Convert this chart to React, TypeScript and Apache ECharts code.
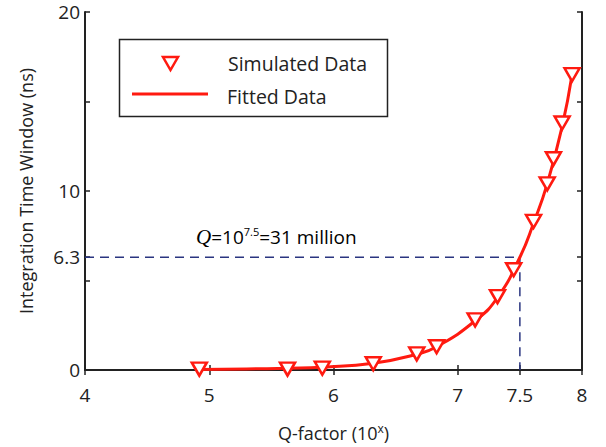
import React, { useEffect, useRef } from "react";
import * as echarts from "echarts";

const simX = [4.92, 5.63, 5.91, 6.32, 6.67, 6.83, 7.14, 7.32, 7.45, 7.61, 7.72, 7.77, 7.84, 7.92];
const simY = [0.05, 0.05, 0.1, 0.35, 0.9, 1.3, 2.8, 4.1, 5.6, 8.3, 10.4, 11.8, 13.8, 16.5];
const fitX = [4.92, 5.3, 5.63, 5.91, 6.32, 6.67, 6.83, 7.14, 7.32, 7.5, 7.61, 7.72, 7.84, 7.92];
const fitY = [0.03, 0.06, 0.1, 0.16, 0.38, 0.88, 1.3, 2.75, 4.05, 6.3, 8.2, 10.4, 13.6, 16.5];
const refPath = [[4, 6.3], [7.5, 6.3], [7.5, 0]];
const xTicks = [4, 5, 6, 7, 7.5, 8];
const yTicks = [0, 5, 6.3, 10, 15, 20];
const yLabels = [0, 6.3, 10, 20];

const FONT = "Open Sans";
const RED = "#ff1a10";
const INK = "#222";

export default function App() {
  const ref = useRef<HTMLDivElement>(null);
  useEffect(() => {
    const chart = echarts.init(ref.current!, null, { renderer: "svg" });
    const axisLine = { lineStyle: { color: INK, width: 2 } };
    const tick = (vals: number[]) => ({
      show: true,
      inside: true,
      length: 5,
      customValues: vals,
      lineStyle: { color: INK, width: 1.5 },
    });
    chart.setOption({
      animation: false,
      backgroundColor: "#fff",
      grid: { left: 85, right: 24, top: 12, bottom: 74 },
      xAxis: [
        {
          type: "value",
          min: 4,
          max: 8,
          axisLine,
          axisTick: tick(xTicks),
          splitLine: { show: false },
          axisLabel: {
            customValues: xTicks,
            fontFamily: FONT,
            fontSize: 19,
            color: INK,
            margin: 15,
            formatter: (v: number) => String(v),
          },
          name: "{a|Q-factor (10}{s|x}{a|)}",
          nameLocation: "middle",
          nameGap: 52,
          nameTextStyle: {
            rich: {
              a: { fontFamily: FONT, fontSize: 18, color: INK },
              s: { fontFamily: FONT, fontSize: 12, color: INK, verticalAlign: "top", padding: [0, 0, 10, 0] },
            },
          },
        },
        {
          type: "value",
          position: "top",
          min: 4,
          max: 8,
          axisLine,
          axisTick: tick(xTicks),
          axisLabel: { show: false },
          splitLine: { show: false },
        },
      ],
      yAxis: [
        {
          type: "value",
          min: 0,
          max: 20,
          axisLine,
          axisTick: tick(yTicks),
          splitLine: { show: false },
          axisLabel: {
            customValues: yLabels,
            fontFamily: FONT,
            fontSize: 19,
            color: INK,
            margin: 5,
            formatter: (v: number) => String(v),
          },
          name: "Integration Time Window (ns)",
          nameLocation: "middle",
          nameGap: 50,
          nameTextStyle: { fontFamily: FONT, fontSize: 18, color: INK },
        },
        {
          type: "value",
          position: "right",
          min: 0,
          max: 20,
          axisLine,
          axisTick: tick(yTicks),
          axisLabel: { show: false },
          splitLine: { show: false },
        },
      ],
      series: [
        {
          type: "line",
          data: refPath,
          symbol: "none",
          lineStyle: { color: "#2a3580", width: 1.5, type: [9, 6] },
          z: 1,
        },
        {
          name: "Fitted Data",
          type: "line",
          data: fitX.map((x, i) => [x, fitY[i]]),
          smooth: 0.5,
          symbol: "none",
          lineStyle: { color: RED, width: 3 },
          z: 2,
        },
        {
          name: "Simulated Data",
          type: "scatter",
          data: simX.map((x, i) => [x, simY[i]]),
          symbol: "triangle",
          symbolRotate: 180,
          symbolSize: [15, 13],
          itemStyle: { color: "#fff", borderColor: RED, borderWidth: 2.5, opacity: 1 },
          z: 3,
        },
      ],
      graphic: [
        {
          type: "rect",
          shape: { x: 119.5, y: 39.5, width: 268, height: 77 },
          style: { fill: "#fff", stroke: INK, lineWidth: 1.5 },
          z: 10,
        },
        {
          type: "polygon",
          shape: { points: [[163, 57], [178, 57], [170.5, 70]] },
          style: { fill: "#fff", stroke: RED, lineWidth: 2.5 },
          z: 11,
        },
        {
          type: "line",
          shape: { x1: 132, y1: 94, x2: 208, y2: 94 },
          style: { stroke: RED, lineWidth: 3 },
          z: 11,
        },
        {
          type: "text",
          x: 228,
          y: 63,
          style: { text: "Simulated Data", fontFamily: FONT, fontSize: 19.5, fill: INK, verticalAlign: "middle" },
          z: 11,
        },
        {
          type: "text",
          x: 227,
          y: 96,
          style: { text: "Fitted Data", fontFamily: FONT, fontSize: 19.5, fill: INK, verticalAlign: "middle" },
          z: 11,
        },
        {
          type: "text",
          x: 196,
          y: 237,
          style: {
            text: "{q|Q}{a|=10}{s|7.5}{a|=31 million}",
            verticalAlign: "middle",
            rich: {
              q: { fontFamily: "Liberation Serif", fontStyle: "italic", fontSize: 21, color: INK },
              a: { fontFamily: FONT, fontSize: 19, color: INK },
              s: { fontFamily: FONT, fontSize: 11, color: INK, verticalAlign: "top", padding: [0, 0, 12, 0] },
            },
          },
          z: 11,
        },
      ],
    });
    return () => chart.dispose();
  }, []);
  return <div ref={ref} style={{ position: "absolute", left: 0, top: 0, width: 606, height: 447 }} />;
}
